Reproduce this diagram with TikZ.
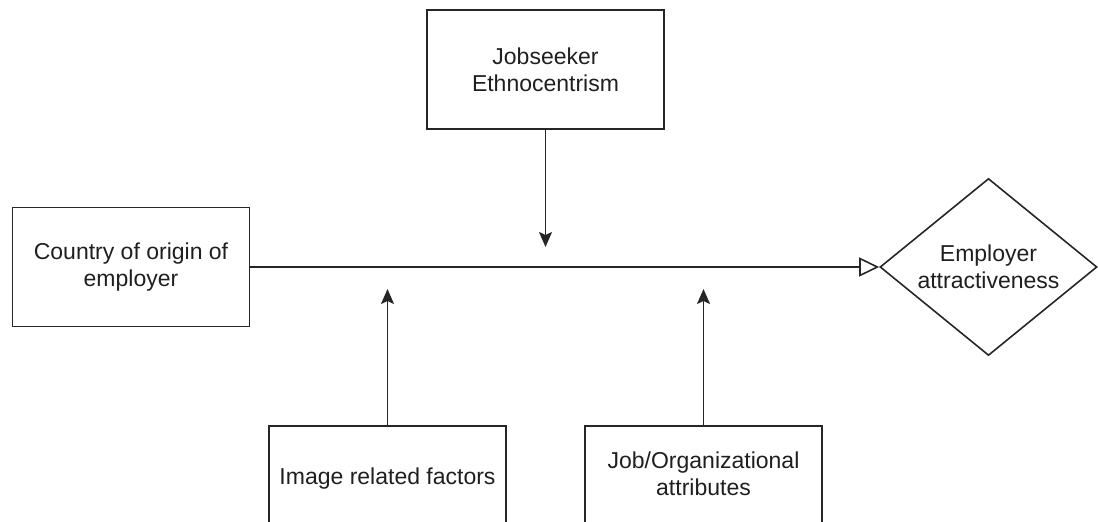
\documentclass[tikz,border=0pt]{standalone}
\usepackage{fontspec}
\setmainfont{Liberation Sans}
\usetikzlibrary{shapes.geometric,arrows.meta}
\begin{document}
\begin{tikzpicture}[x=1pt,y=-1pt,
  box/.style={draw=black!85,line width=1.6pt,rectangle,minimum width=237pt,minimum height=119pt,inner sep=0pt,align=center,
    font=\fontsize{23}{27}\selectfont,text=black!88},
  dia/.style={draw=black!85,line width=1.6pt,diamond,shape aspect=1.226,minimum width=217pt,minimum height=177pt,inner sep=0pt,align=center,
    font=\fontsize{23}{27}\selectfont,text=black!88},
  conn/.style={draw=black!85,line width=1.6pt},
  solidtip/.style={-{Stealth[length=15pt,width=13pt,inset=3pt]}},
  opentip/.style={-{Triangle[open,length=20pt,width=19pt,fill=white]}}
]
\useasboundingbox (0,0) rectangle (1098,522);
\clip (0,0) rectangle (1098,522);
\node[box] (eth) at (545.5,69.5) {Jobseeker\\Ethnocentrism};
\node[box] (coo) at (131,267) {Country of origin of\\employer};
\node[box] (img) at (387.5,485.5) {Image related factors\\[-8pt]\phantom{x}};
\node[box] (job) at (703.5,485.5) {Job/Organizational\\attributes\\[-4pt]\phantom{x}};
\node[dia] (ea) at (988.5,267) {Employer\\attractiveness};
\coordinate (t1) at (545.5,247);
\coordinate (t2) at (387.5,289);
\coordinate (t3) at (703.5,289);
\draw[conn,solidtip] (eth.south) -- (t1);
\draw[conn,solidtip] (img.north) -- (t2);
\draw[conn,solidtip] (job.north) -- (t3);
\draw[conn,opentip] (coo.east) -- (ea.west);
\end{tikzpicture}
\end{document}
